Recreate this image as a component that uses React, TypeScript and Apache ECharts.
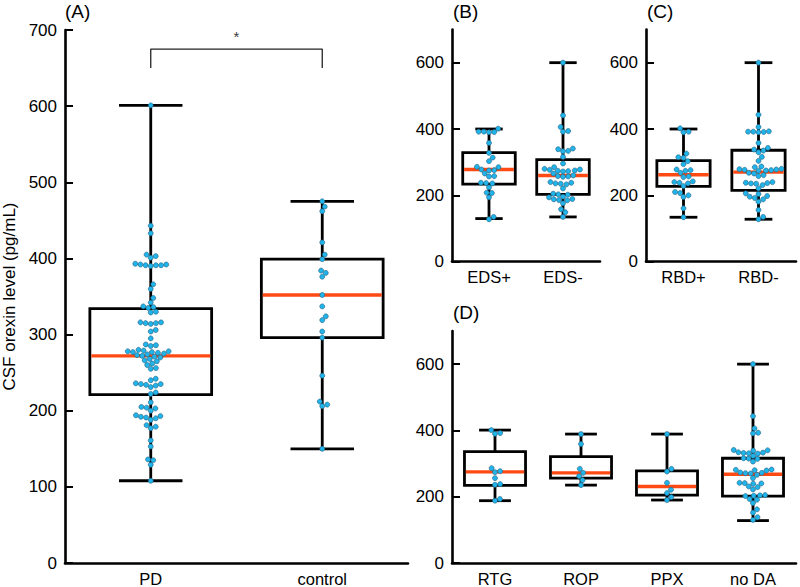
import React, { useEffect, useRef } from "react";
import * as echarts from "echarts";

// ---------- data ----------
const catsA = ["PD", "control"];
const catsB = ["EDS+", "EDS-"];
const catsC = ["RBD+", "RBD-"];
const catsD = ["RTG", "ROP", "PPX", "no DA"];

const pdVals = [601, 443, 433, 405, 403, 401, 393, 392, 391, 391, 390, 391, 392, 366, 360, 348, 342, 337, 336, 335, 330, 329, 316, 315, 314, 315, 316, 306, 304, 295, 287, 286, 285, 280, 279, 278, 278, 277, 277, 276, 275, 274, 273, 272, 271, 270, 268, 266, 265, 262, 260, 256, 255, 242, 240, 236, 235, 235, 234, 233, 231, 224, 222, 211, 205, 204, 203, 200, 194, 193, 192, 191, 190, 188, 181, 179, 177, 161, 153, 136, 135, 129, 108];
const controlVals = [475, 468, 462, 421, 405, 399, 384, 381, 376, 352, 337, 324, 319, 304, 296, 246, 212, 208, 206, 150];

const edsPlusVals = [401, 392, 391, 390, 392, 358, 328, 314, 303, 286, 285, 278, 276, 275, 266, 258, 257, 238, 237, 236, 224, 208, 207, 194, 135, 128];
const edsMinusVals = [600, 441, 406, 394, 392, 341, 339, 334, 333, 316, 296, 285, 280, 278, 277, 275, 274, 273, 272, 266, 260, 258, 257, 256, 240, 238, 236, 235, 233, 221, 205, 203, 202, 196, 194, 189, 188, 186, 185, 176, 158, 149, 135];

const rbdPlusVals = [402, 392, 390, 326, 315, 313, 303, 294, 278, 276, 274, 268, 257, 255, 242, 240, 238, 236, 228, 210, 207, 200, 195, 161, 134];
const rbdMinusVals = [600, 443, 406, 393, 392, 391, 390, 392, 358, 343, 338, 335, 330, 316, 304, 287, 285, 280, 279, 278, 277, 276, 275, 274, 268, 266, 261, 258, 240, 238, 237, 236, 235, 231, 221, 206, 204, 198, 196, 192, 188, 181, 156, 135, 128];

const rtgVals = [401, 392, 390, 286, 277, 274, 256, 238, 236, 193, 188];
const ropVals = [389, 359, 284, 272, 262, 250, 235];
const ppxVals = [389, 284, 276, 242, 221, 211, 199, 190];
const noDaVals = [600, 443, 406, 393, 391, 341, 340, 339, 334, 333, 332, 331, 330, 323, 316, 315, 314, 306, 282, 281, 280, 279, 273, 272, 271, 270, 266, 256, 242, 241, 240, 239, 231, 229, 222, 205, 204, 203, 202, 193, 191, 181, 162, 152, 138, 130];

// box stats: [min, q1, median, q3, max]
const statsA = [
  [108, 221, 272, 334, 601],
  [150, 296, 352, 399, 475],
];
const statsB = [
  [130, 234, 278, 329, 400],
  [135, 203, 260, 308, 600],
];
const statsC = [
  [134, 227, 262, 305, 400],
  [128, 215, 270, 336, 600],
];
const statsD = [
  [188, 234, 275, 336, 401],
  [235, 256, 272, 321, 389],
  [190, 205, 231, 278, 389],
  [128, 202, 268, 316, 600],
];

const yMax = 700;
const yTicksA = [0, 100, 200, 300, 400, 500, 600, 700];
const yTicksSmall = [0, 200, 400, 600];
const axisTitle = "CSF orexin level (pg/mL)";
const panelLetters = ["(A)", "(B)", "(C)", "(D)"];
const bracket = { from: 0, to: 1, low: 650, high: 675, mark: "*" };

// ---------- layout ----------
const grids = [
  { left: 65, top: 30, width: 343, height: 533 },
  { left: 452, top: 29.5, width: 148, height: 232.2 },
  { left: 646, top: 29.5, width: 150, height: 232.2 },
  { left: 452, top: 331, width: 344, height: 232.3 },
];

const FONT = "Liberation Sans, Arial, Helvetica, sans-serif";
const DOT = 5;
const BLUE = "#20B4EA";
const RED = "#FF4A14";

function swarm(vals: number[], ky: number, d: number): number[] {
  const idx = vals.map((_, i) => i).sort((a, b) => vals[a] - vals[b]);
  const placed: { x: number; y: number }[] = [];
  const out: number[] = new Array(vals.length).fill(0);
  for (const i of idx) {
    const y = vals[i] * ky;
    const near = placed.filter((p) => Math.abs(p.y - y) < d);
    const cands = [0];
    for (const p of near) {
      const dx = Math.sqrt(Math.max(0, d * d - (p.y - y) * (p.y - y)));
      cands.push(p.x + dx, p.x - dx);
    }
    cands.sort((a, b) => Math.abs(a) - Math.abs(b) || b - a);
    let chosen = 0;
    for (const c of cands) {
      if (near.every((p) => (p.x - c) ** 2 + (p.y - y) ** 2 >= d * d - 1e-6)) {
        chosen = c;
        break;
      }
    }
    placed.push({ x: chosen, y });
    out[i] = chosen;
  }
  return out;
}

function dotsFor(groups: number[][], gi: number, nCats: number): number[][] {
  const g = grids[gi];
  const ky = g.height / yMax;
  const kx = g.width / nCats;
  const res: number[][] = [];
  groups.forEach((vals, ci) => {
    const offs = swarm(vals, ky, DOT + 0.2);
    vals.forEach((v, k) => res.push([ci + offs[k] / kx, v]));
  });
  return res;
}

const renderBox = (params: any, api: any) => {
  const x = api.value(0);
  const mn = api.coord([x, api.value(1)]);
  const q1 = api.coord([x, api.value(2)]);
  const md = api.coord([x, api.value(3)]);
  const q3 = api.coord([x, api.value(4)]);
  const mx = api.coord([x, api.value(5)]);
  const unit = api.size([1, 0])[0];
  const bw = unit * 0.71;
  const cw = unit * 0.37;
  const cx = mn[0];
  const blk = { stroke: "#000", lineWidth: 2.8, fill: null };
  return {
    type: "group",
    children: [
      { type: "line", shape: { x1: cx, y1: mx[1], x2: cx, y2: q3[1] }, style: blk },
      { type: "line", shape: { x1: cx, y1: q1[1], x2: cx, y2: mn[1] }, style: blk },
      { type: "line", shape: { x1: cx - cw / 2, y1: mx[1], x2: cx + cw / 2, y2: mx[1] }, style: blk },
      { type: "line", shape: { x1: cx - cw / 2, y1: mn[1], x2: cx + cw / 2, y2: mn[1] }, style: blk },
      {
        type: "rect",
        shape: { x: cx - bw / 2, y: q3[1], width: bw, height: q1[1] - q3[1] },
        style: { stroke: "#000", lineWidth: 2.8, fill: "#fff" },
      },
      {
        type: "line",
        shape: { x1: cx - bw / 2 + 1.4, y1: md[1], x2: cx + bw / 2 - 1.4, y2: md[1] },
        style: { stroke: RED, lineWidth: 3.4 },
      },
    ],
  };
};

function boxData(stats: number[][]) {
  return stats.map((s, i) => [i, ...s]);
}

export default function App() {
  const ref = useRef<HTMLDivElement>(null);
  useEffect(() => {
    if (!ref.current) return;
    const chart = echarts.init(ref.current, undefined, { renderer: "svg" });
    const catSets = [catsA, catsB, catsC, catsD];
    const xAxis: any[] = [];
    const yAxis: any[] = [];
    catSets.forEach((cats, gi) => {
      xAxis.push({
        type: "category",
        gridIndex: gi,
        data: cats,
        axisLine: { onZero: false, lineStyle: { color: "#000", width: 2.6 } },
        axisTick: { show: false },
        axisLabel: { color: "#000", fontSize: 16.5, fontFamily: FONT, margin: 7 },
        splitLine: { show: false },
      });
      xAxis.push({
        type: "value",
        gridIndex: gi,
        min: -0.5,
        max: cats.length - 0.5,
        show: false,
        axisLine: { onZero: false },
        splitLine: { show: false },
      });
      const ticks = gi === 0 ? yTicksA : yTicksSmall;
      yAxis.push({
        type: "value",
        gridIndex: gi,
        min: 0,
        max: yMax,
        interval: 100,
        axisLine: { show: true, onZero: false, lineStyle: { color: "#000", width: 2.6 } },
        axisTick: {
          show: true,
          inside: true,
          length: 8,
          customValues: ticks,
          lineStyle: { color: "#000", width: 2 },
        },
        axisLabel: { color: "#000", fontSize: 17, fontFamily: FONT, margin: 8, customValues: ticks },
        splitLine: { show: false },
        name: gi === 0 ? axisTitle : "",
        nameLocation: "middle",
        nameGap: 47,
        nameTextStyle: { color: "#000", fontSize: 17, fontFamily: FONT },
      });
    });

    const groupsList = [
      [pdVals, controlVals],
      [edsPlusVals, edsMinusVals],
      [rbdPlusVals, rbdMinusVals],
      [rtgVals, ropVals, ppxVals, noDaVals],
    ];
    const statsList = [statsA, statsB, statsC, statsD];

    const series: any[] = [];
    groupsList.forEach((groups, gi) => {
      series.push({
        type: "custom",
        xAxisIndex: gi * 2 + 1,
        yAxisIndex: gi,
        renderItem: renderBox,
        data: boxData(statsList[gi]),
        z: 2,
      });
      series.push({
        type: "scatter",
        xAxisIndex: gi * 2 + 1,
        yAxisIndex: gi,
        symbol: "circle",
        symbolSize: DOT,
        itemStyle: { color: BLUE, borderColor: "#24607e", borderWidth: 0.6, opacity: 1 },
        data: dotsFor(groups, gi, groups.length),
        z: 5,
      });
    });

    series.push({
      type: "line",
      xAxisIndex: 1,
      yAxisIndex: 0,
      symbol: "none",
      lineStyle: { color: "#222", width: 1.3 },
      data: [
        [bracket.from, bracket.low],
        [bracket.from, bracket.high],
        [bracket.to, bracket.high],
        [bracket.to, bracket.low],
      ],
      z: 3,
    });
    series.push({
      type: "scatter",
      xAxisIndex: 1,
      yAxisIndex: 0,
      symbolSize: 0,
      data: [[(bracket.from + bracket.to) / 2, 692]],
      label: {
        show: true,
        position: "inside",
        formatter: bracket.mark,
        color: "#000",
        fontSize: 15,
        fontFamily: FONT,
      },
      z: 3,
    });

    const letterPos = [
      [65, 2],
      [453, 2],
      [647, 2],
      [453, 303],
    ];
    const graphic = panelLetters.map((t, i) => ({
      type: "text",
      left: letterPos[i][0],
      top: letterPos[i][1],
      style: { text: t, fontSize: 19, fontFamily: FONT, fill: "#000" },
    }));

    chart.setOption({
      animation: false,
      backgroundColor: "#fff",
      textStyle: { fontFamily: FONT },
      grid: grids.map((g) => ({ ...g, containLabel: false })),
      xAxis,
      yAxis,
      series,
      graphic,
    });
    return () => chart.dispose();
  }, []);
  return (
    <div
      ref={ref}
      style={{ position: "fixed", left: 0, top: 0, width: 800, height: 587 }}
    />
  );
}
